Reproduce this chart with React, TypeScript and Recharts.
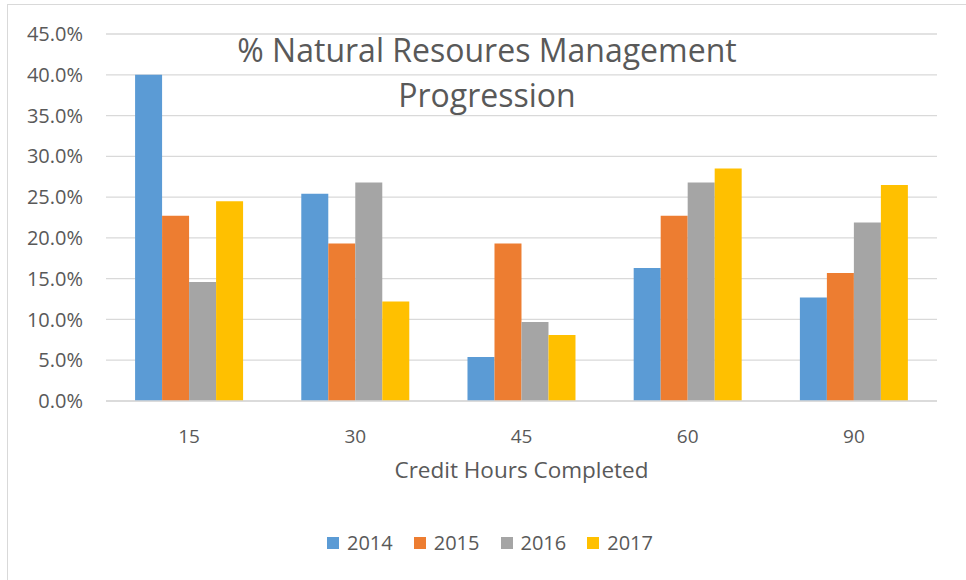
import React from 'react'
import { BarChart, Bar, XAxis, YAxis, CartesianGrid } from 'recharts'

const creditHours = ['15', '30', '45', '60', '90']
const years = ['2014', '2015', '2016', '2017']
const colors = ['#5B9BD5', '#ED7D31', '#A5A5A5', '#FFC000']

// percent of students per year
const pct2014 = [40.0, 25.4, 5.4, 16.3, 12.7]
const pct2015 = [22.7, 19.3, 19.3, 22.7, 15.7]
const pct2016 = [14.6, 26.8, 9.7, 26.8, 21.9]
const pct2017 = [24.5, 12.2, 8.1, 28.5, 26.5]

const yTicks = [0, 5, 10, 15, 20, 25, 30, 35, 40, 45]

const seriesValues = [pct2014, pct2015, pct2016, pct2017]

const data = creditHours.map((h, i) => {
  const row: Record<string, string | number> = { hours: h }
  years.forEach((y, j) => {
    row[y] = seriesValues[j][i]
  })
  return row
})

const font = '"Open Sans", sans-serif'
const textColor = '#595959'

export default function App() {
  return (
    <div style={{ position: 'absolute', left: 0, top: 0, width: 966, height: 580, overflow: 'hidden', background: '#fff', fontFamily: font }}>
      <div style={{ position: 'absolute', left: 7, top: 4, width: 980, height: 600, border: '1px solid #d9d9d9' }} />
      <BarChart
        width={966}
        height={580}
        data={data}
        margin={{ top: 34, right: 29, bottom: 89, left: 0 }}
        barCategoryGap="17.5%"
        barGap={0}
        style={{ position: 'absolute', left: 0, top: 0 }}
      >
        <CartesianGrid vertical={false} stroke="#d9d9d9" strokeWidth={1.3} />
        <XAxis
          dataKey="hours"
          height={90}
          tickLine={false}
          tickSize={0}
          tickMargin={29}
          axisLine={{ stroke: '#d9d9d9', strokeWidth: 1.3 }}
          tick={{ fill: textColor, fontSize: 19, fontFamily: font }}
          label={{ value: 'Credit Hours Completed', position: 'insideTop', offset: 61, fill: textColor, fontSize: 22.5, fontFamily: font }}
        />
        <YAxis
          width={106}
          domain={[0, 45]}
          ticks={yTicks}
          interval={0}
          tickFormatter={(v: number) => `${v.toFixed(1)}%`}
          axisLine={false}
          tickLine={false}
          tickSize={0}
          tickMargin={23}
          tick={{ fill: textColor, fontSize: 20, fontFamily: font }}
        />
        {years.map((y, j) => (
          <Bar key={y} dataKey={y} fill={colors[j]} isAnimationActive={false} />
        ))}
      </BarChart>
      <div
        style={{
          position: 'absolute',
          left: 0,
          top: 27,
          width: 974,
          textAlign: 'center',
          fontSize: 32,
          lineHeight: '45px',
          color: textColor,
          pointerEvents: 'none',
        }}
      >
        % Natural Resoures Management
        <br />
        Progression
      </div>
      <div
        style={{
          position: 'absolute',
          left: 7,
          top: 529,
          width: 966,
          display: 'flex',
          justifyContent: 'center',
          gap: 21,
          fontSize: 20,
          lineHeight: '28px',
          color: textColor,
        }}
      >
        {years.map((y, j) => (
          <div key={y} style={{ display: 'flex', alignItems: 'center' }}>
            <span style={{ display: 'inline-block', width: 12, height: 12, background: colors[j], marginRight: 8 }} />
            <span>{y}</span>
          </div>
        ))}
      </div>
    </div>
  )
}
